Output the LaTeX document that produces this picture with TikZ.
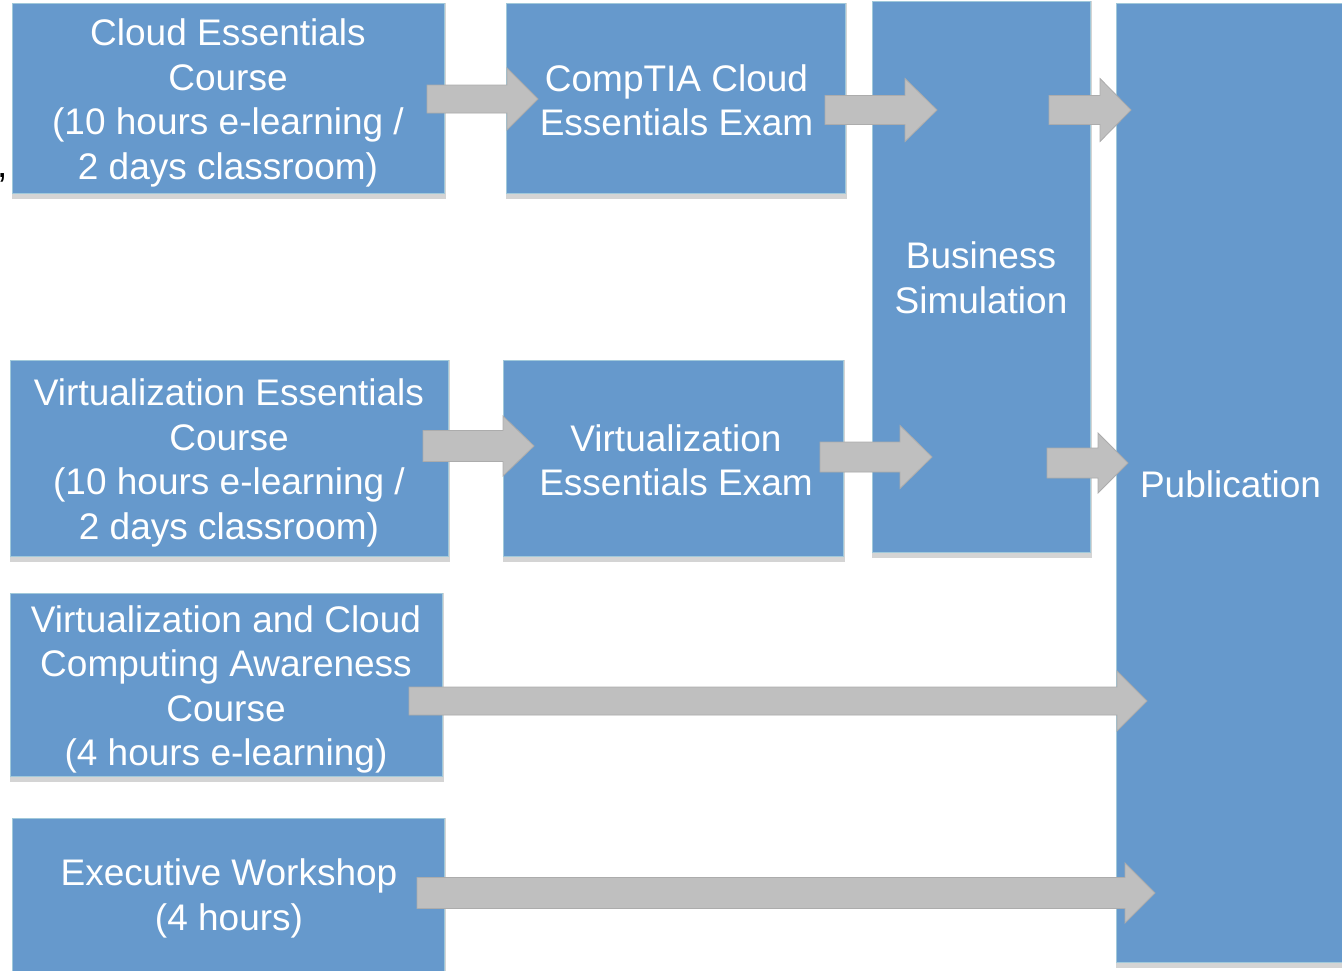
\documentclass[tikz,border=0pt]{standalone}
\usepackage{fontspec}
\setmainfont{Liberation Sans}
\usetikzlibrary{calc,backgrounds}
\definecolor{boxblue}{RGB}{102,153,204}
\definecolor{boxedge}{RGB}{160,200,218}
\definecolor{boxshade}{RGB}{212,212,212}
\definecolor{arrowgray}{RGB}{191,191,191}
\definecolor{arrowedge}{RGB}{172,172,172}
\tikzset{
  box/.style={rectangle, fill=boxblue, draw=boxedge, line width=1pt, inner sep=0pt},
  boxtext/.style={inner sep=0pt, text=white, align=center, font=\fontsize{37}{44.5}\selectfont},
  boxshadow/.style={fill=boxshade},
  arrowbody/.style={fill=arrowgray, draw=arrowedge, line width=0.8pt, line join=miter},
  arrowshadow/.style={fill=black, fill opacity=0.15}
}
% #1 tail coordinate, #2 tip coordinate, #3 shaft half height, #4 head half height, #5 head length
\newcommand\blockarrow[5]{%
  \fill[arrowshadow, xshift=2pt, yshift=-3pt] let \p1=(#1), \p2=(#2) in
    (\x1,\y1+#3pt) -- (\x2-#5pt,\y1+#3pt) -- (\x2-#5pt,\y1+#4pt) -- (\x2,\y2)
    -- (\x2-#5pt,\y1-#4pt) -- (\x2-#5pt,\y1-#3pt) -- (\x1,\y1-#3pt) -- cycle;
  \filldraw[arrowbody] let \p1=(#1), \p2=(#2) in
    (\x1,\y1+#3pt) -- (\x2-#5pt,\y1+#3pt) -- (\x2-#5pt,\y1+#4pt) -- (\x2,\y2)
    -- (\x2-#5pt,\y1-#4pt) -- (\x2-#5pt,\y1-#3pt) -- (\x1,\y1-#3pt) -- cycle;
}
\begin{document}
\begin{tikzpicture}[x=1pt,y=-1pt]
\useasboundingbox (0,0) rectangle (1342,970);
\clip (0,0) rectangle (1342,970);

% boxes
\node[box, minimum width=432pt, minimum height=190pt] (A) at (228,98) {};
\node[box, minimum width=339pt, minimum height=190pt] (B) at (675.5,98) {};
\node[box, minimum width=218pt, minimum height=551pt] (C) at (981,276.5) {};
\node[box, minimum width=229pt, minimum height=959pt] (D) at (1230.5,482.5) {};
\node[box, minimum width=438pt, minimum height=196pt] (E) at (229,458) {};
\node[box, minimum width=340pt, minimum height=196pt] (F) at (673,458) {};
\node[box, minimum width=432pt, minimum height=183pt] (G) at (226,684.5) {};
\node[box, minimum width=432pt, minimum height=157pt] (H) at (228,896.5) {};

% box texts
\node[boxtext] (At) at ($(A.center)+(0,5)$)
  {Cloud Essentials\\Course\\(10 hours e-learning /\\2 days classroom)};
\node[boxtext] (Bt) at ($(B.center)+(1,2.5)$) {CompTIA Cloud\\Essentials Exam};
\node[boxtext] (Ct) at ($(C.center)+(0,1.5)$) {Business\\Simulation};
\node[boxtext] (Dt) at ($(D.center)+(0,1.5)$) {Publication};
\node[boxtext] (Et) at ($(E.center)+(0,5)$)
  {Virtualization Essentials\\Course\\(10 hours e-learning /\\2 days classroom)};
\node[boxtext] (Ft) at ($(F.center)+(3,2.5)$) {Virtualization\\Essentials Exam};
\node[boxtext] (Gt) at ($(G.center)+(0,5)$)
  {Virtualization and Cloud\\Computing Awareness\\Course\\(4 hours e-learning)};
\node[boxtext] (Ht) at ($(H.center)+(1,2)$) {Executive Workshop\\(4 hours)};

% stray comma at the left edge
\node[anchor=base west, inner sep=0pt, font=\fontsize{37}{44.5}\selectfont] (comma) at (-3,177) {,};

% box shadows
\begin{scope}[on background layer]
  \foreach \n in {A,B,C,D,E,F,G,H}{
    \fill[boxshadow] ($(\n.south west)+(0,5.5)$) rectangle ($(\n.north east)+(1,0)$);
  }
\end{scope}

% arrow end points
\coordinate (a1t) at (427,99);   \coordinate (a1h) at (538,99);
\coordinate (a2t) at (825,110);  \coordinate (a2h) at (937,110);
\coordinate (a3t) at (1049,110); \coordinate (a3h) at (1131,110);
\coordinate (a4t) at (423,446);  \coordinate (a4h) at (534,446);
\coordinate (a5t) at (820,457);  \coordinate (a5h) at (932,457);
\coordinate (a6t) at (1047,463); \coordinate (a6h) at (1128,463);
\coordinate (a7t) at (409,701);  \coordinate (a7h) at (1147,701);
\coordinate (a8t) at (417,893);  \coordinate (a8h) at (1155,893);

% block arrows
\blockarrow{a1t}{a1h}{14}{31}{31}
\blockarrow{a2t}{a2h}{14.5}{31.5}{32}
\blockarrow{a3t}{a3h}{14.5}{31.5}{31}
\blockarrow{a4t}{a4h}{15.5}{30}{31}
\blockarrow{a5t}{a5h}{15}{31.5}{32}
\blockarrow{a6t}{a6h}{15}{30}{30}
\blockarrow{a7t}{a7h}{14}{30}{30}
\blockarrow{a8t}{a8h}{15.5}{30}{30}
\end{tikzpicture}
\end{document}
